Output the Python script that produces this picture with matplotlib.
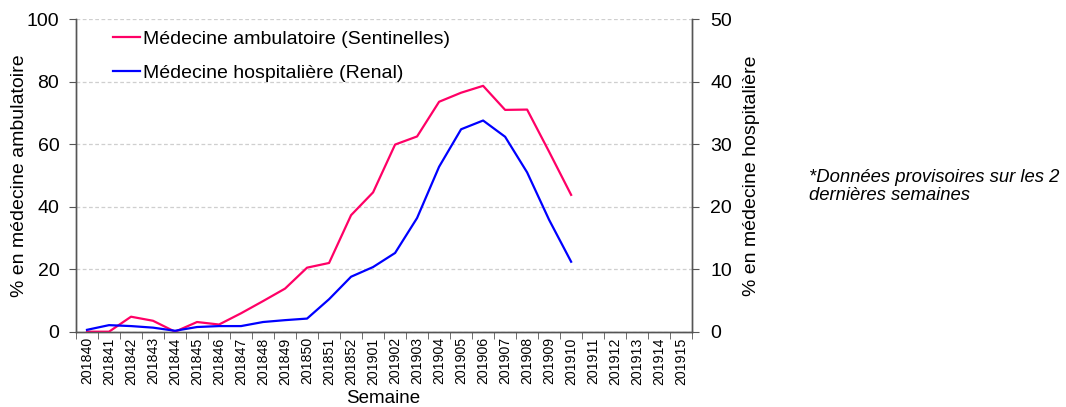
import matplotlib
matplotlib.use("Agg")
import matplotlib.pyplot as plt
import numpy as np

plt.rcParams['font.family'] = ['Liberation Sans', 'DejaVu Sans']

weeks = ["201840", "201841", "201842", "201843", "201844", "201845", "201846",
         "201847", "201848", "201849", "201850", "201851", "201852", "201901",
         "201902", "201903", "201904", "201905", "201906", "201907", "201908",
         "201909", "201910", "201911", "201912", "201913", "201914", "201915"]

ambulatoire = [0.0, 0.0, 4.8, 3.5, 0.0, 3.1, 2.3, 5.9, 9.8, 13.8, 20.5, 22.0,
               37.3, 44.6, 59.9, 62.5, 73.6, 76.5, 78.7, 71.0, 71.1, 57.6, 43.8]

hospitaliere = [0.3, 1.05, 0.9, 0.65, 0.15, 0.75, 0.9, 0.9, 1.55, 1.85, 2.1, 5.2,
                8.8, 10.35, 12.6, 18.2, 26.4, 32.4, 33.8, 31.2, 25.5, 17.9, 11.2]

pink = "#FF0066"
blue = "#0000FF"

fig = plt.figure(figsize=(10.66, 4.07), dpi=100)
ax = fig.add_axes([0.0713, 0.185, 0.578, 0.7676])
ax2 = ax.twinx()

x = np.arange(len(weeks))
l1, = ax.plot(x[:len(ambulatoire)], ambulatoire, color=pink, lw=1.6,
              label="Médecine ambulatoire (Sentinelles)", zorder=3)
l2, = ax2.plot(x[:len(hospitaliere)], hospitaliere, color=blue, lw=1.6,
               label="Médecine hospitalière (Renal)", zorder=3)

ax.set_xlim(-0.5, len(weeks) - 0.5)
ax.set_ylim(0, 100)
ax2.set_ylim(0, 50)
ax.set_yticks([0, 20, 40, 60, 80, 100])
ax2.set_yticks([0, 10, 20, 30, 40, 50])

ax.set_xticks(x)
ax.set_xticklabels(weeks, rotation=90, fontsize=10.2)
ax.set_xticks(np.arange(-0.5, len(weeks), 1.0), minor=True)
ax.tick_params(axis='x', which='major', length=0, pad=4)
ax.tick_params(axis='x', which='minor', length=5, direction='out', color='#555555')

ax.tick_params(axis='y', labelsize=14, length=5, pad=7, direction='out', color='#555555')
ax2.tick_params(axis='y', labelsize=14, length=5, pad=8, direction='out', color='#555555')

for a in (ax, ax2):
    a.spines['top'].set_visible(False)
    for s in ('left', 'right', 'bottom'):
        a.spines[s].set_color('#555555')
        a.spines[s].set_linewidth(1.0)

ax.yaxis.grid(True, linestyle=(0, (3, 2)), color='#CFCFCF', lw=0.9)
ax.set_axisbelow(True)

ax.set_ylabel("% en médecine ambulatoire", fontsize=14)
ax2.set_ylabel("% en médecine hospitalière", fontsize=14)
ax.yaxis.set_label_coords(-0.078, 0.5)
ax2.yaxis.set_label_coords(1.083, 0.5)

fig.text(383 / 1066, 1 - 390 / 407, "Semaine", fontsize=13.5, ha='center', va='top')

ax.legend(handles=[l1, l2], loc='upper left', bbox_to_anchor=(0.048, 0.99),
          frameon=False, fontsize=14, handlelength=1.39, handletextpad=0.15,
          labelspacing=0.83, borderaxespad=0)

fig.text(0.759, 0.584, "*Données provisoires sur les 2\ndernières semaines",
         fontsize=13.3, style='italic', va='top', ha='left', linespacing=1.08)

fig.savefig("out.png", dpi=100)
